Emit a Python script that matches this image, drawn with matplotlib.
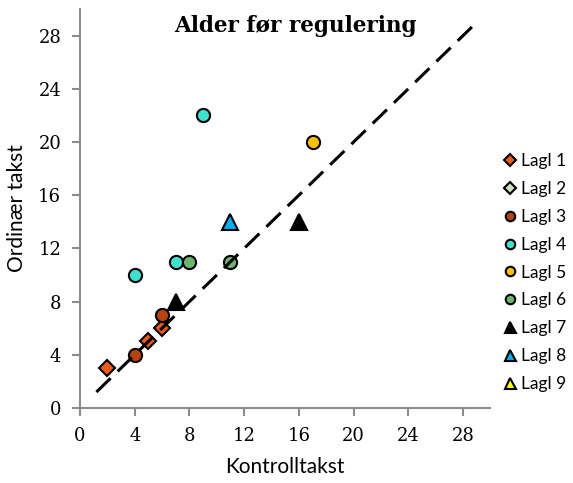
import numpy as np
import matplotlib.pyplot as plt

# kontrolltakst (x) mot ordinær takst (y) per lag
lagl1_x = [2, 5, 6]
lagl1_y = [3, 5, 6]
lagl2_x = []
lagl2_y = []
lagl3_x = [4, 6]
lagl3_y = [4, 7]
lagl4_x = [4, 7, 9]
lagl4_y = [10, 11, 22]
lagl5_x = [17]
lagl5_y = [20]
lagl6_x = [8, 11]
lagl6_y = [11, 11]
lagl7_x = [7, 16]
lagl7_y = [8, 14]
lagl8_x = [11]
lagl8_y = [14]
lagl9_x = []
lagl9_y = []

ticks = [0, 4, 8, 12, 16, 20, 24, 28]
line_ends = [1.2, 29]

series = [
    ("Lagl 1", lagl1_x, lagl1_y, "D", "#EE5A1C", 8),
    ("Lagl 2", lagl2_x, lagl2_y, "D", "#C9E2BC", 8),
    ("Lagl 3", lagl3_x, lagl3_y, "o", "#B8420E", 9.5),
    ("Lagl 4", lagl4_x, lagl4_y, "o", "#40E0CF", 9.5),
    ("Lagl 5", lagl5_x, lagl5_y, "o", "#FFC000", 9.5),
    ("Lagl 6", lagl6_x, lagl6_y, "o", "#6DB56F", 9.5),
    ("Lagl 7", lagl7_x, lagl7_y, "^", "#000000", 11),
    ("Lagl 8", lagl8_x, lagl8_y, "^", "#00B0F0", 11),
    ("Lagl 9", lagl9_x, lagl9_y, "^", "#FFFF00", 11),
]

fig = plt.figure(figsize=(5.73, 4.83), dpi=100)
ax = fig.add_axes([0.1396, 0.1553, 0.7162, 0.826])

handles = []
for name, xs, ys, mk, col, ms in series:
    ax.plot(xs, ys, linestyle="none", marker=mk, markersize=ms,
            markerfacecolor=col, markeredgecolor="black", markeredgewidth=1.5,
            zorder=3)
    h, = ax.plot([], [], linestyle="none", marker=mk, markersize=ms * 0.72,
                 markerfacecolor=col, markeredgecolor="black",
                 markeredgewidth=1.5, label=name)
    handles.append(h)

ax.plot(line_ends, line_ends, color="black", linewidth=2.2,
        dashes=(6.5, 3.2), zorder=4)

ax.set_xlim(0, 30)
ax.set_ylim(0, 30)
ax.set_xticks(ticks)
ax.set_yticks(ticks)

for side in ["top", "right"]:
    ax.spines[side].set_visible(False)
for side in ["left", "bottom"]:
    ax.spines[side].set_color("#8C8C8C")
    ax.spines[side].set_linewidth(1.5)
ax.tick_params(direction="out", length=5.5, width=1.5, color="#8C8C8C",
               labelsize=13)
ax.tick_params(axis="x", pad=8)
ax.tick_params(axis="y", pad=8)
for lab in ax.get_xticklabels() + ax.get_yticklabels():
    lab.set_fontfamily("DejaVu Serif")

ax.set_xlabel("Kontrolltakst", fontsize=15, family="Lato", labelpad=9)
ax.set_ylabel("Ordinær takst", fontsize=15, family="Lato", labelpad=8)

ax.text(0.524, 0.958, "Alder før regulering", transform=ax.transAxes,
        ha="center", va="center", fontsize=15.5, fontweight="bold",
        family="DejaVu Serif")

fig.legend(handles=handles, loc="upper left", bbox_to_anchor=(0.862, 0.697),
           frameon=False, prop={"family": "Lato", "size": 12.5},
           handletextpad=0.15, labelspacing=0.68, handlelength=1.0,
           borderaxespad=0)

fig.savefig("out.png", dpi=100)
